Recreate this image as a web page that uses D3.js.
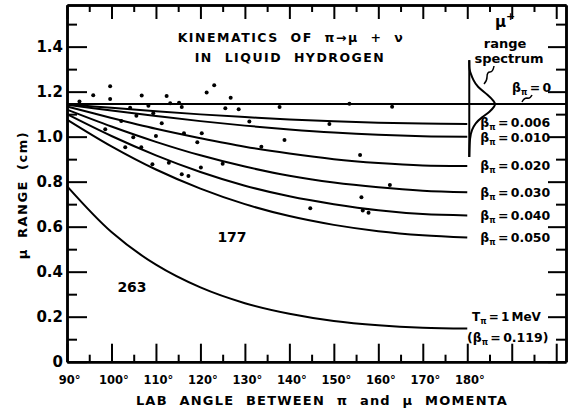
<!doctype html>
<html>
<head>
<meta charset="utf-8">
<style>
body { margin: 0; background: #fff; }
svg { font-family: "DejaVu Sans", sans-serif; font-weight: bold; }
.axis .domain { stroke: #000; stroke-width: 2.5; }
.axis .tick line { stroke: #000; stroke-width: 2; }
.curve { fill: none; stroke: #000; stroke-width: 2; }
</style>
</head>
<body>
<svg width="568" height="413"></svg>
<script src="https://d3js.org/d3.v7.min.js"></script>
<script>
// lab angle (deg) at which the curves were read
var angles = [90, 100, 110, 120, 130, 140, 150, 160, 170, 180];

// mu range (cm) for each pion velocity
var betaNames = ["0.006", "0.010", "0.020", "0.030", "0.040", "0.050"];
var beta0006 = [1.144, 1.128, 1.113, 1.099, 1.087, 1.076, 1.068, 1.062, 1.058, 1.056];
var beta0010 = [1.142, 1.116, 1.092, 1.069, 1.049, 1.032, 1.018, 1.008, 1.002, 1.000];
var beta0020 = [1.134, 1.083, 1.035, 0.993, 0.955, 0.925, 0.900, 0.883, 0.872, 0.870];
var beta0030 = [1.120, 1.045, 0.977, 0.917, 0.867, 0.826, 0.796, 0.775, 0.760, 0.753];
var beta0040 = [1.100, 1.003, 0.917, 0.843, 0.782, 0.735, 0.700, 0.673, 0.656, 0.650];
var beta0050 = [1.076, 0.957, 0.854, 0.769, 0.700, 0.647, 0.608, 0.580, 0.562, 0.552];
var beta0119 = [0.780, 0.576, 0.431, 0.330, 0.260, 0.213, 0.181, 0.162, 0.151, 0.147];
var rangeAtRest = 1.145;

// measured events
var dotAngle = [92.8, 95.9, 99.7, 99.7, 106.8, 112.4, 113.2, 115.2, 115.8, 121.4, 123.1, 126.8,
  125.6, 128.6, 131.0, 108.3, 104.2, 105.6, 109.4, 111.3, 102.2, 98.6, 104.9, 110.0, 116.3,
  120.3, 119.3, 133.7, 103.1, 106.7, 109.2, 112.9, 120.1, 125.0, 115.8, 117.3, 137.8, 153.5,
  163.1, 149.0, 138.9, 155.9, 162.6, 156.2, 144.7, 156.5, 157.8];
var dotRange = [1.156, 1.184, 1.224, 1.167, 1.183, 1.181, 1.148, 1.151, 1.132, 1.196, 1.228, 1.173,
  1.126, 1.122, 1.067, 1.137, 1.128, 1.093, 1.104, 1.060, 1.070, 1.033, 0.997, 1.003, 1.015,
  1.015, 0.975, 0.955, 0.953, 0.953, 0.877, 0.884, 0.863, 0.880, 0.833, 0.825, 1.132, 1.146,
  1.133, 1.056, 0.985, 0.919, 0.785, 0.731, 0.682, 0.672, 0.662];

// sketch of the mu+ range spectrum (range, relative height)
var spectrumRange = [1.34, 1.30, 1.282, 1.252, 1.222, 1.185, 1.156, 1.145, 1.136, 1.111, 1.086, 1.060, 1.030, 1.000, 0.91];
var spectrumCount = [0, 0, 0.05, 0.15, 0.30, 0.73, 0.96, 1.0, 0.98, 0.80, 0.48, 0.23, 0.10, 0.02, 0];

var xMajor = [90, 100, 110, 120, 130, 140, 150, 160, 170, 180, 190, 200];
var xMinor = [95, 105, 115, 125, 135, 145, 155, 165, 175, 185, 195];
var yMajor = [0, 0.2, 0.4, 0.6, 0.8, 1.0, 1.2, 1.4];
var yMinor = [0.1, 0.3, 0.5, 0.7, 0.9, 1.1, 1.3, 1.5];

var svg = d3.select("svg");

var x = d3.scaleLinear().domain([90, 202.2]).range([67, 566]);
var y = d3.scaleLinear().domain([0, 1.585]).range([361.7, 5]);

function axis(gen, tx, ty, vals, size, fmt, pad) {
  var g = svg.append("g").attr("class", "axis")
    .attr("transform", "translate(" + tx + "," + ty + ")")
    .call(gen.tickValues(vals).tickSizeInner(size).tickSizeOuter(0)
      .tickPadding(pad || 3).tickFormat(fmt || ""));
  g.attr("font-family", null).attr("font-size", null);
  return g;
}

// frame with inward ticks
axis(d3.axisTop(x), 0, y.range()[1], xMinor, -7);
axis(d3.axisTop(x), 0, y.range()[1], xMajor, -14);
axis(d3.axisRight(y), x.range()[1], 0, yMinor, -10);
axis(d3.axisRight(y), x.range()[1], 0, yMajor, -18);
axis(d3.axisBottom(x), 0, y(0), xMinor, -7);
var xa = axis(d3.axisBottom(x), 0, y(0), xMajor, -18, function(d) { return d <= 180 ? d + "°" : ""; }, 14);
xa.selectAll("text").attr("font-size", 11.5).attr("dx", 2);
axis(d3.axisLeft(y), x(90), 0, yMinor, -10);
var ya = axis(d3.axisLeft(y), x(90), 0, yMajor, -20, function(d) { return d === 0 ? "0" : d3.format(".1f")(d); }, 4);
ya.selectAll("text").attr("font-size", 15);

// curves
var line = d3.line()
  .x(function(d) { return x(d[0]); })
  .y(function(d) { return y(d[1]); })
  .curve(d3.curveCatmullRom.alpha(0.5));

var series = [beta0006, beta0010, beta0020, beta0030, beta0040, beta0050, beta0119];
series.forEach(function(s) {
  svg.append("path").attr("class", "curve")
    .attr("d", line(angles.map(function(a, i) { return [a, s[i]]; })));
});

svg.append("line").attr("class", "curve")
  .attr("x1", x(90)).attr("x2", x.range()[1])
  .attr("y1", y(rangeAtRest)).attr("y2", y(rangeAtRest));

// events
svg.selectAll("circle.ev")
  .data(dotAngle)
  .enter().append("circle")
    .attr("class", "ev")
    .attr("cx", function(d) { return x(d); })
    .attr("cy", function(d, i) { return y(dotRange[i]); })
    .attr("r", 2)
    .attr("fill", "#000");

// range spectrum
var sx = d3.scaleLinear().domain([0, 1]).range([x(180) + 2, x(180) + 28]);
svg.append("line").attr("class", "curve")
  .attr("x1", sx(0)).attr("x2", sx(0))
  .attr("y1", y(1.34)).attr("y2", y(0.91));
svg.append("path").attr("class", "curve")
  .attr("d", d3.line()
    .x(function(d, i) { return sx(spectrumCount[i]); })
    .y(function(d) { return y(d); })
    .curve(d3.curveBasis)(spectrumRange));

// text
function beta(t, val) {
  t.append("tspan").text("β");
  t.append("tspan").attr("dy", 3).attr("font-size", 8).text("π");
  t.append("tspan").attr("dy", -3).attr("word-spacing", -2).text(" = " + val);
}

var labelX = x(180) + 13;
var nudge = [-1, 1, 0, 0, 0, 0];
series.slice(0, 6).forEach(function(s, i) {
  var t = svg.append("text").attr("x", labelX).attr("y", y(s[s.length - 1]) + nudge[i])
    .attr("dy", "0.35em").attr("font-size", 12.5);
  beta(t, betaNames[i]);
});

var t0 = svg.append("text").attr("x", 512).attr("y", y(1.2) - 4).attr("dy", "0.35em").attr("font-size", 12.5);
beta(t0, "0");

svg.append("path").attr("fill", "none").attr("stroke", "#000").attr("stroke-width", 1.5)
  .attr("d", "M532,95 q-2,4 -5,3 q-3,0 -5,4");
svg.append("path").attr("fill", "none").attr("stroke", "#000").attr("stroke-width", 1.5)
  .attr("d", "M494,66 q-1,6 -4,6 q-3,0 -3,5 q0,4 -3,7");

var tm = svg.append("text").attr("x", 472).attr("y", y(0.2)).attr("dy", "0.35em")
  .attr("font-size", 12).attr("word-spacing", -2);
tm.append("tspan").text("T");
tm.append("tspan").attr("dy", 3).attr("font-size", 8).text("π");
tm.append("tspan").attr("dy", -3).text(" = 1 MeV");
var tb = svg.append("text").attr("x", 467).attr("y", y(0.105)).attr("dy", "0.35em").attr("font-size", 12.5);
tb.append("tspan").text("(");
beta(tb, "0.119)");

var mu = svg.append("text").attr("x", 495).attr("y", 27).attr("font-size", 15);
mu.append("tspan").text("μ");
mu.append("tspan").attr("dy", -7).attr("font-size", 11).text("+");
svg.append("text").attr("x", 505).attr("y", 48).attr("text-anchor", "middle").attr("font-size", 13).text("range");
svg.append("text").attr("x", 509).attr("y", 63).attr("text-anchor", "middle").attr("font-size", 13).text("spectrum");

svg.append("text").attr("x", 291).attr("y", 42).attr("text-anchor", "middle")
  .attr("font-size", 12.5).attr("letter-spacing", 1.5).attr("word-spacing", 6)
  .text("KINEMATICS OF π→μ + ν");
svg.append("text").attr("x", 290).attr("y", 62).attr("text-anchor", "middle")
  .attr("font-size", 12.5).attr("letter-spacing", 1.5).attr("word-spacing", 6)
  .text("IN LIQUID HYDROGEN");

svg.append("text").attr("x", 232).attr("y", 242).attr("text-anchor", "middle").attr("font-size", 14).text("177");
svg.append("text").attr("x", 132).attr("y", 292).attr("text-anchor", "middle").attr("font-size", 14).text("263");

svg.append("text").attr("transform", "translate(27,195) rotate(-90)").attr("text-anchor", "middle")
  .attr("font-size", 13).attr("letter-spacing", 1.5).attr("word-spacing", 4)
  .text("μ RANGE (cm)");

svg.append("text").attr("x", 322).attr("y", 405).attr("text-anchor", "middle")
  .attr("font-size", 13).attr("letter-spacing", 1.2).attr("word-spacing", 6)
  .text("LAB ANGLE BETWEEN π and μ MOMENTA");
</script>
</body>
</html>
